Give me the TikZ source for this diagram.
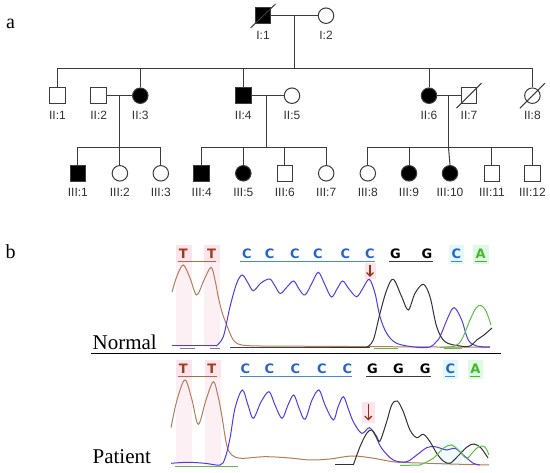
\documentclass[tikz,border=0pt]{standalone}
\usepackage{fontspec}
\setmainfont{Liberation Serif}
\newfontfamily\lsans{Liberation Sans}
\newfontfamily\dvsans{DejaVu Sans}
\usetikzlibrary{calc,arrows.meta}
\definecolor{pedline}{RGB}{60,60,60}
\definecolor{labgray}{RGB}{50,50,50}
\definecolor{trbrown}{RGB}{180,125,90}
\definecolor{trblue}{RGB}{80,60,230}
\definecolor{trblack}{RGB}{50,50,50}
\definecolor{trgreen}{RGB}{95,190,70}
\definecolor{ltT}{RGB}{160,60,30}
\definecolor{ltC}{RGB}{40,100,200}
\definecolor{ltA}{RGB}{70,185,40}
\definecolor{bgpink}{RGB}{252,228,236}
\definecolor{bgcyan}{RGB}{225,248,252}
\definecolor{bggreen}{RGB}{222,250,228}
\definecolor{ulT}{RGB}{170,110,80}
\definecolor{ulC}{RGB}{70,140,210}
\definecolor{ulG}{RGB}{60,60,60}
\definecolor{arrowred}{RGB}{150,50,20}
\tikzset{
  ind/.style={draw=pedline, line width=1pt, inner sep=0pt, minimum size=15.5pt},
  male/.style={ind, rectangle},
  female/.style={ind, circle},
  aff/.style={fill=black},
  lab/.style={font={\lsans\fontsize{12}{13}\selectfont}, text=labgray, inner sep=0pt},
  pline/.style={draw=pedline, line width=1pt},
  bigtxt/.style={font={\fontsize{21}{24}\selectfont}, inner sep=0pt, anchor=base west},
  panlab/.style={font={\fontsize{20}{24}\selectfont}, inner sep=0pt, anchor=base},
  base/.style={font={\dvsans\bfseries\fontsize{13}{14}\selectfont}, inner sep=0pt},
  bT/.style={base, text=ltT},
  bC/.style={base, text=ltC},
  bG/.style={base, text=black},
  bA/.style={base, text=ltA},
  uline/.style={line width=1.2pt},
  trace/.style={line width=1pt, smooth, tension=0.55},
}
\begin{document}
\begin{tikzpicture}[x=1pt,y=-1pt]
\useasboundingbox (0,0) rectangle (550,473);
\fill[white] (0,0) rectangle (550,473);

% ---------------- pedigree ----------------
\node[panlab] (pa) at (10.5,28.5) {a};

\node[male,aff] (I1) at (263,15.7) {};
\node[female] (I2) at (326,15.7) {};
\node[lab] (lI1) at (263,35) {I:1};
\node[lab] (lI2) at (326,35) {I:2};
\draw[pline] ($(I1)+(-12.5,12.3)$) -- ($(I1)+(12.5,-11.7)$);
\draw[pline] (I1) -- (I2);
\coordinate (mI) at (294,15.7);
\coordinate (sI) at (294,68.3);
\draw[pline] (mI) -- (sI);

\foreach \n/\x/\t/\s in {II1/57.5/male/,II2/98.7/male/,II3/140.3/female/aff,II4/243.3/male/aff,II5/292/female/,II6/429/female/aff,II7/469/male/,II8/532.4/female/}{
  \node[\t,\s] (\n) at (\x,95.7) {};
}
\foreach \n/\x/\l in {II1/57.5/II:1,II2/98.7/II:2,II3/140.3/II:3,II4/243.3/II:4,II5/292/II:5,II6/429/II:6,II7/469/II:7,II8/532.4/II:8}{
  \node[lab] (l\n) at (\x,115) {\l};
}
\draw[pline] ($(II7)+(-12.5,12.5)$) -- ($(II7)+(12.5,-12.5)$);
\draw[pline] ($(II8)+(-12.5,12.5)$) -- ($(II8)+(12.5,-12.5)$);
\draw[pline] (II1.north) |- (sI) -| (II8.north);
\draw[pline] (II3.north) -- (II3.north |- sI);
\draw[pline] (II4.north) -- (II4.north |- sI);
\draw[pline] (II6.north) -- (II6.north |- sI);
\draw[pline] (II2) -- (II3);
\draw[pline] (II4) -- (II5);
\draw[pline] (II6) -- (II7);
\coordinate (m1) at (119.9,95.7);
\coordinate (m2) at (266.9,95.7);
\coordinate (m3) at (448.5,95.7);
\coordinate (s1) at (119.9,147.3);
\coordinate (s2) at (266.9,147.3);
\coordinate (s3) at (448.5,147.3);
\draw[pline] (m1) -- (s1);
\draw[pline] (m2) -- (s2);
\draw[pline] (m3) -- (s3);

\foreach \n/\x/\t/\s/\l in {III1/77.9/male/aff/III:1,III2/119.9/female//III:2,III3/160.8/female//III:3,III4/201.7/male/aff/III:4,III5/243.3/female/aff/III:5,III6/284.9/male//III:6,III7/326.2/female//III:7,III8/367.8/female//III:8,III9/409/female/aff/III:9,III10/450/female/aff/III:10,III11/491.9/male//III:11,III12/532.4/male//III:12}{
  \node[\t,\s] (\n) at (\x,173.3) {};
  \node[lab] (l\n) at (\x,192.7) {\l};
}
\draw[pline] (III1.north) |- (s1) -| (III3.north);
\draw[pline] (III2.north) -- (s1);
\draw[pline] (III4.north) |- (s2) -| (III7.north);
\draw[pline] (III5.north) -- (III5.north |- s2);
\draw[pline] (III6.north) -- (III6.north |- s2);
\draw[pline] (III8.north) |- (s3) -| (III12.north);
\draw[pline] (III9.north) -- (III9.north |- s3);
\draw[pline] (III10.north) -- (s3);
\draw[pline] (III11.north) -- (III11.north |- s3);

% ---------------- chromatograms ----------------
\node[panlab] (pb) at (10.5,258.5) {b};
\node[bigtxt] (normal) at (92.4,349.3) {Normal};
\node[bigtxt] (patient) at (92.4,463.3) {Patient};
\coordinate (sepL) at (91,353.3);
\coordinate (sepR) at (501.4,353.3);
\draw[line width=1.3pt] (sepL) -- (sepR);

% backgrounds top
\fill[bgpink!55] (175.5,263) rectangle (191.5,347);
\fill[bgpink!55] (204,263) rectangle (220,347);
\fill[bgpink] (175.5,245) rectangle (191.5,263);
\fill[bgpink] (204,245) rectangle (220,263);
\fill[bgcyan] (449,245) rectangle (464,264);
\fill[bggreen] (473,245) rectangle (489,264);
\fill[bgpink] (364.5,263) rectangle (375.5,279);
% backgrounds bottom
\fill[bgpink!55] (175.5,378) rectangle (192,466);
\fill[bgpink!55] (204.5,378) rectangle (221,466);
\fill[bgpink] (175.5,360) rectangle (192,378);
\fill[bgpink] (204.5,360) rectangle (221,378);
\fill[bgcyan] (443,360) rectangle (458,379);
\fill[bggreen] (468,360) rectangle (483,379);
\fill[bgcyan!50] (440,440) rectangle (462,466);
\fill[bgpink] (361.7,401.7) rectangle (375,423.3);

% letters top
\foreach \n/\s/\x/\l in {t1/bT/183.3/T,t2/bT/211.5/T,t3/bC/246.8/C,t4/bC/269.7/C,t5/bC/294.8/C,t6/bC/318/C,t7/bC/345.5/C,t8/bC/370/C,t9/bG/395.5/G,t10/bG/427/G,t11/bC/456.5/C,t12/bA/480.7/A}{
  \node[\s] (\n) at (\x,253.3) {\l};
}
\draw[uline,ulT] (178.3,261.7) -- (215.7,261.7);
\draw[uline,ulC] (240,261.7) -- (375,261.7);
\draw[uline,ulG] (389.3,261.7) -- (432.7,261.7);
\draw[uline,ulC] (451,261.7) -- (461.7,261.7);
\draw[uline,ltA] (475,261.7) -- (486.7,261.7);
\coordinate (arT1) at (370,265.5);
\coordinate (arT2) at (370,277);
\draw[arrowred,line width=1.3pt,-{Straight Barb[length=3.5pt,width=7pt]}] (arT1) -- (arT2);

% letters bottom
\foreach \n/\s/\x/\l in {p1/bT/183.3/T,p2/bT/211.7/T,p3/bC/245.5/C,p4/bC/269.5/C,p5/bC/295.3/C,p6/bC/322/C,p7/bC/347.5/C,p8/bG/372.5/G,p9/bG/398.5/G,p10/bG/425.3/G,p11/bC/450.5/C,p12/bA/475.5/A}{
  \node[\s] (\n) at (\x,368.3) {\l};
}
\draw[uline,ulT] (178.3,376.7) -- (216.7,376.7);
\draw[uline,ulC] (240,376.7) -- (352,376.7);
\draw[uline,ulG] (366,376.7) -- (431,376.7);
\draw[uline,ulC] (445,376.7) -- (455,376.7);
\draw[uline,ltA] (470,376.7) -- (480,376.7);
\coordinate (arP1) at (368.3,404);
\coordinate (arP2) at (368.3,420.5);
\draw[arrowred,line width=1.3pt,-{Straight Barb[length=3.5pt,width=7pt]}] (arP1) -- (arP2);

% baseline marks top
\draw[gray,line width=0.9pt] (180,348.5) -- (195,348.5);
\draw[gray,line width=0.9pt] (210,348.5) -- (220,348.5);
\draw[black!75,line width=1pt] (230,347.8) -- (370,347.8);
\draw[trgreen,line width=0.9pt] (374,348) -- (398,348);
\draw[trgreen,line width=0.9pt] (444,348) -- (462,348);
% baseline marks bottom
\draw[trgreen,line width=0.9pt] (175,466.5) -- (238,466.5);

% traces top
\draw[trbrown,trace] plot coordinates {(172,292) (177,276) (183.3,265) (190,278) (196.7,295) (204,280) (211,267.3) (215,280) (218.3,297) (222,312) (226.7,325) (233.3,340) (241.7,345) (260,346)};
\draw[trbrown,line width=1pt] (260,346) -- (490,347.3);
\draw[trblue,line width=1pt] (172,346) -- (216,346);
\draw[trblue,trace] plot coordinates {(216,346) (223.3,336.7) (230,306.7) (236.7,283.3) (242.3,275) (248,283) (253.3,290.7) (261,283) (269.7,279) (275,286) (280.3,293.5) (287,287) (293.7,281) (299,289) (305,295) (312,283) (318.4,272.3) (325,285) (331.4,297) (337,289) (342.7,281) (349,289) (356.7,296.7) (363,288) (369.3,279.3) (375,293.3) (380,316.7) (386.7,333.3) (396.7,343.3) (416.7,347.3) (430,347) (436,342) (440,336.7) (448.3,316.7) (454.3,307.7) (461.7,320) (468.3,340) (476.7,346) (490,347)};
\draw[trblack,line width=1pt] (330,347.3) -- (366.7,347.3);
\draw[trblack,trace] plot coordinates {(366.7,347.3) (373.3,340) (380,313.3) (386.7,290) (393.3,279.3) (401.7,296.7) (408.3,310) (415,293.3) (423.3,284.3) (430,296.7) (436.7,326.7) (445,341.7) (460,346) (470,346) (476.7,340) (484,335) (492,328)};
\draw[trgreen,trace] plot coordinates {(440,347.3) (455,346) (462,339) (470,320) (476,308) (481,305.5) (486,311) (491,325)};

% traces bottom
\draw[trbrown,trace] plot coordinates {(171,427.7) (177,400) (185,380) (192,400) (198.3,424.3) (206,400) (213.3,381.7) (218,396) (221.7,415) (226.7,445) (231.7,455) (241.7,458.3) (265,456.7) (290,458) (310,460) (330,459) (352,456) (372,458) (395,462) (420,463) (450,464) (489,465)};
\draw[trblue,trace] plot coordinates {(171,463.3) (188.3,462.3) (205,463.3) (220,465) (225,458.3) (230,438.3) (235,408.3) (242.3,390) (248,405) (253.3,418.3) (261,402) (269,391.7) (275,405) (282,418.3) (288,405) (293.7,395) (299,408) (305,419.3) (312,400) (319,390) (325,405) (333.3,420) (338,407) (343.3,396.7) (348,408) (353.3,421.7) (361.7,433.3) (369.3,427.7) (375,435) (381.7,448.3) (393.3,460) (406.7,461.7) (416.7,455) (426.7,447.7) (435,446.7) (446.7,450) (455,448.3) (463.3,455) (473.3,463.3) (480,465)};
\draw[trblack,line width=1pt] (335,465) -- (353.3,465);
\draw[trblack,trace] plot coordinates {(353.3,465) (360,446.7) (366.7,433.3) (371.7,430) (376.7,436.7) (380,441) (386.7,421.7) (391.7,405) (397.3,401) (403.3,411.7) (410,430) (416.7,437.7) (423.3,434.3) (430,441.7) (436.7,453.3) (443.3,461) (450,463.3) (458,456) (467,447) (474,444) (481,448) (488,458)};
\draw[trgreen,line width=1pt] (400,465.5) -- (420,465);
\draw[trgreen,trace] plot coordinates {(420,465) (433.3,458.3) (443.3,448.3) (451.7,445) (460,451.7) (466.7,458.3) (473.3,451.7) (479,446.5) (485,447) (489,455)};
\end{tikzpicture}
\end{document}
